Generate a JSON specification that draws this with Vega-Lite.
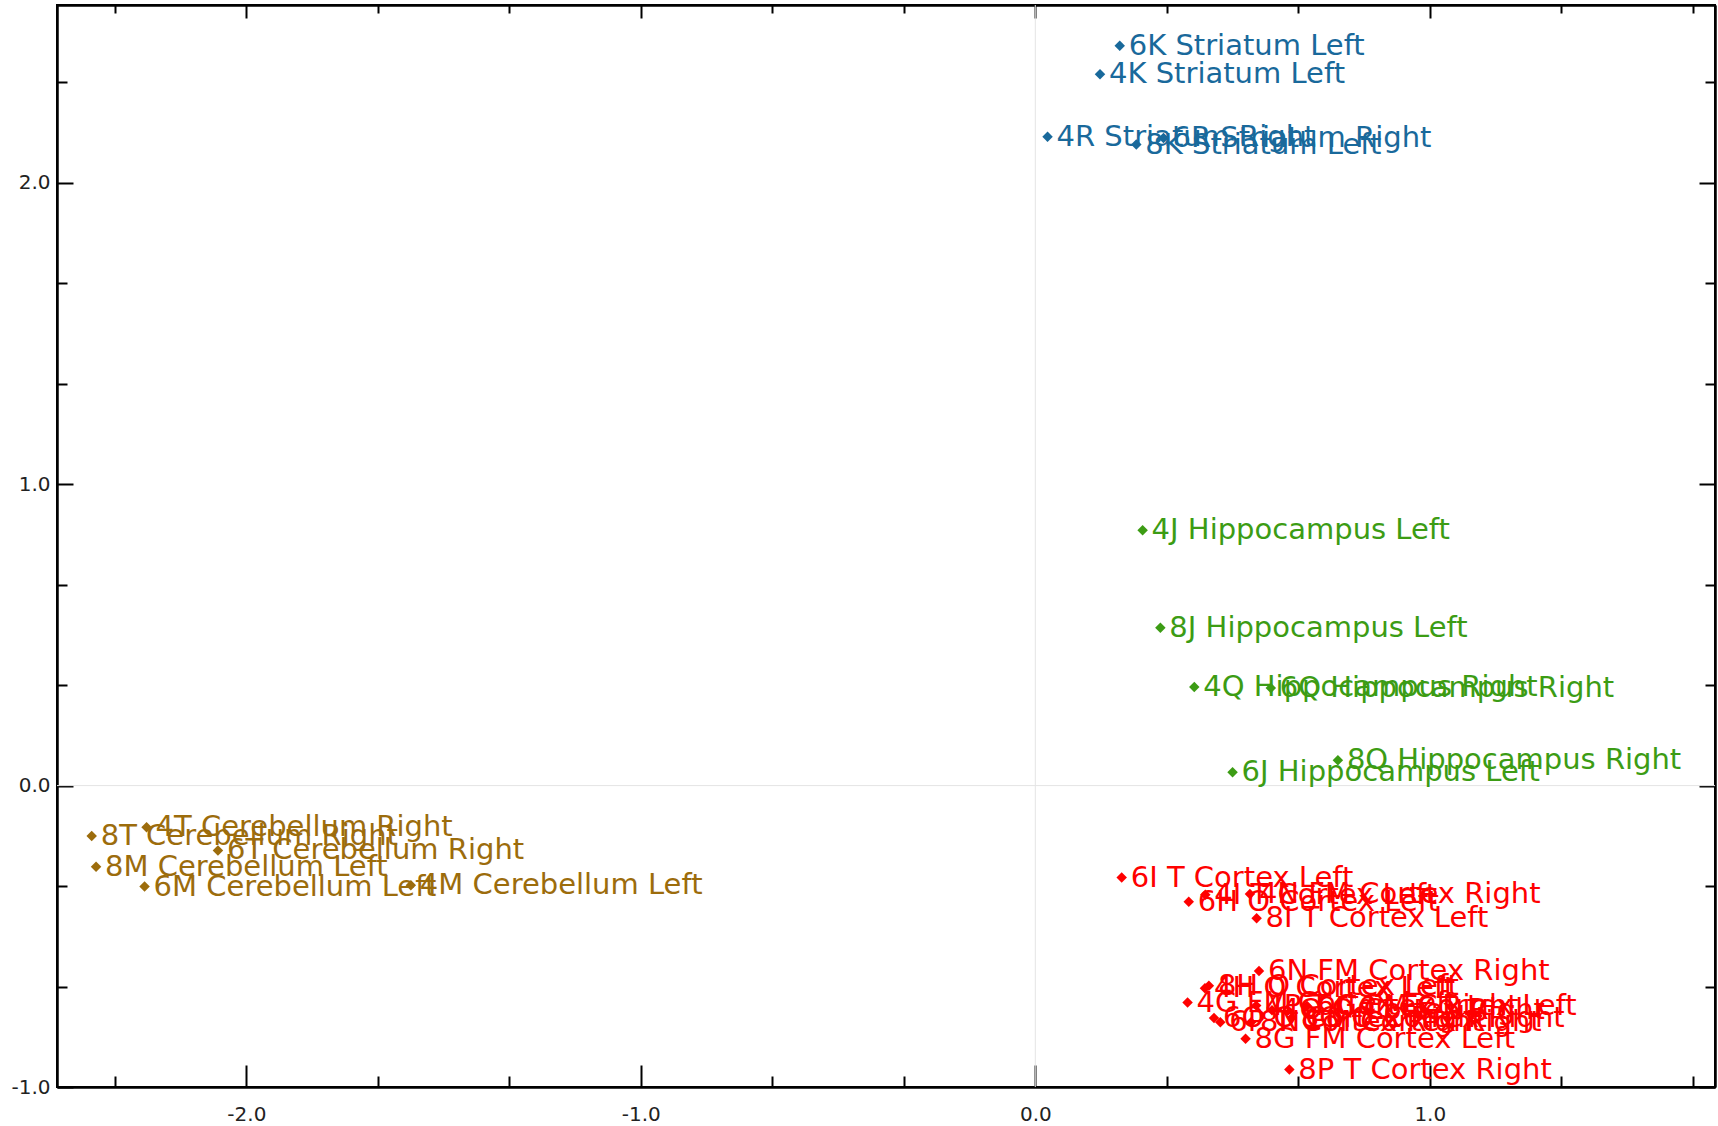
{
  "$schema": "https://vega.github.io/schema/vega-lite/v6.json",
  "width": 1658,
  "height": 1082,
  "autosize": {"type": "none"},
  "padding": {"left": 57, "top": 5, "right": 3, "bottom": 39},
  "background": "white",
  "config": {
    "view": {"stroke": "black", "strokeWidth": 2},
    "axis": {
      "domainColor": "black",
      "domainWidth": 2,
      "tickColor": "black",
      "tickWidth": 2,
      "grid": false,
      "title": null,
      "zindex": 2,
      "labelFont": "DejaVu Sans",
      "labelFontSize": 20,
      "labelColor": "#222222",
      "labelFlush": false,
      "labelOverlap": false
    }
  },
  "data": {
    "values": [
      {"label": "6K Striatum Left", "group": "Striatum", "pc1": 0.214, "pc2": 2.455},
      {"label": "4K Striatum Left", "group": "Striatum", "pc1": 0.164, "pc2": 2.360},
      {"label": "4R Striatum Right", "group": "Striatum", "pc1": 0.031, "pc2": 2.153},
      {"label": "8K Striatum Left", "group": "Striatum", "pc1": 0.256, "pc2": 2.127},
      {"label": "6R Striatum Right", "group": "Striatum", "pc1": 0.325, "pc2": 2.149},
      {"label": "4J Hippocampus Left", "group": "Hippocampus", "pc1": 0.272, "pc2": 0.847},
      {"label": "8J Hippocampus Left", "group": "Hippocampus", "pc1": 0.317, "pc2": 0.524},
      {"label": "4Q Hippocampus Right", "group": "Hippocampus", "pc1": 0.403, "pc2": 0.327},
      {"label": "6Q Hippocampus Right", "group": "Hippocampus", "pc1": 0.597, "pc2": 0.324},
      {"label": "6J Hippocampus Left", "group": "Hippocampus", "pc1": 0.500, "pc2": 0.044},
      {"label": "8Q Hippocampus Right", "group": "Hippocampus", "pc1": 0.767, "pc2": 0.084},
      {"label": "4T Cerebellum Right", "group": "Cerebellum", "pc1": -2.253, "pc2": -0.138},
      {"label": "8T Cerebellum Right", "group": "Cerebellum", "pc1": -2.392, "pc2": -0.167},
      {"label": "6T Cerebellum Right", "group": "Cerebellum", "pc1": -2.072, "pc2": -0.215},
      {"label": "8M Cerebellum Left", "group": "Cerebellum", "pc1": -2.381, "pc2": -0.269},
      {"label": "6M Cerebellum Left", "group": "Cerebellum", "pc1": -2.258, "pc2": -0.335},
      {"label": "4M Cerebellum Left", "group": "Cerebellum", "pc1": -1.583, "pc2": -0.331},
      {"label": "6I T Cortex Left", "group": "Cortex", "pc1": 0.219, "pc2": -0.305},
      {"label": "6H O Cortex Left", "group": "Cortex", "pc1": 0.389, "pc2": -0.385},
      {"label": "4I T Cortex Left", "group": "Cortex", "pc1": 0.431, "pc2": -0.362},
      {"label": "4N FM Cortex Right", "group": "Cortex", "pc1": 0.544, "pc2": -0.360},
      {"label": "8I T Cortex Left", "group": "Cortex", "pc1": 0.561, "pc2": -0.440},
      {"label": "6N FM Cortex Right", "group": "Cortex", "pc1": 0.567, "pc2": -0.615},
      {"label": "4H O Cortex Left", "group": "Cortex", "pc1": 0.430, "pc2": -0.672},
      {"label": "8H O Cortex Left", "group": "Cortex", "pc1": 0.440, "pc2": -0.664},
      {"label": "4G FM Cortex Left", "group": "Cortex", "pc1": 0.386, "pc2": -0.720},
      {"label": "6O O Cortex Right", "group": "Cortex", "pc1": 0.453, "pc2": -0.771},
      {"label": "6P T Cortex Right", "group": "Cortex", "pc1": 0.469, "pc2": -0.785},
      {"label": "4P T Cortex Right", "group": "Cortex", "pc1": 0.560, "pc2": -0.730},
      {"label": "4O O Cortex Right", "group": "Cortex", "pc1": 0.600, "pc2": -0.745},
      {"label": "6G FM Cortex Left", "group": "Cortex", "pc1": 0.689, "pc2": -0.731},
      {"label": "8O O Cortex Right", "group": "Cortex", "pc1": 0.650, "pc2": -0.770},
      {"label": "8N FM Cortex Right", "group": "Cortex", "pc1": 0.547, "pc2": -0.785},
      {"label": "8G FM Cortex Left", "group": "Cortex", "pc1": 0.533, "pc2": -0.840},
      {"label": "8P T Cortex Right", "group": "Cortex", "pc1": 0.644, "pc2": -0.942}
    ]
  },
  "resolve": {"axis": {"x": "independent", "y": "independent"}},
  "layer": [
    {
      "data": {"values": [{}]},
      "mark": {"type": "rule", "color": "#e4e4e4", "strokeWidth": 1},
      "encoding": {
        "y": {"datum": 0, "type": "quantitative", "scale": {"domain": [-1.0, 2.59], "nice": false, "zero": false},
          "axis": {"orient": "left", "values": [-0.6666667, -0.3333333, 0.3333333, 0.6666667, 1.3333333, 1.6666667, 2.3333333], "labels": false, "tickSize": -10, "domain": true}}
      }
    },
    {
      "data": {"values": [{}]},
      "mark": {"type": "rule", "color": "#e4e4e4", "strokeWidth": 1},
      "encoding": {
        "x": {"datum": 0, "type": "quantitative", "scale": {"domain": [-2.48, 1.723], "nice": false, "zero": false},
          "axis": {"orient": "bottom", "values": [-2.3333333, -1.6666667, -1.3333333, -0.6666667, -0.3333333, 0.3333333, 0.6666667, 1.3333333, 1.6666667], "labels": false, "tickSize": -11, "domain": true}}
      }
    },
    {
      "data": {"values": [{}]},
      "mark": {"type": "point", "opacity": 0},
      "encoding": {
        "x": {"datum": 0, "type": "quantitative",
          "axis": {"orient": "top", "values": [-2.3333333, -1.6666667, -1.3333333, -0.6666667, -0.3333333, 0.3333333, 0.6666667, 1.3333333, 1.6666667], "labels": false, "tickSize": -8, "domain": true}},
        "y": {"datum": 0, "type": "quantitative",
          "axis": {"orient": "right", "values": [-0.6666667, -0.3333333, 0.3333333, 0.6666667, 1.3333333, 1.6666667, 2.3333333], "labels": false, "tickSize": -10, "domain": true}}
      }
    },
    {
      "mark": {"type": "point", "shape": "diamond", "filled": true, "size": 110, "opacity": 1},
      "encoding": {
        "x": {"field": "pc1", "type": "quantitative",
          "axis": {"orient": "bottom", "values": [-2, -1, 0, 1], "tickSize": -22, "labelPadding": 39,
            "labelExpr": "(datum.value < 0 ? '-' : '') + format(abs(datum.value), '.1f')"}},
        "y": {"field": "pc2", "type": "quantitative",
          "axis": {"orient": "left", "values": [-1, 0, 1, 2], "tickSize": -16, "labelPadding": 23,
            "labelExpr": "(datum.value < 0 ? '-' : '') + format(abs(datum.value), '.1f')"}},
        "color": {"field": "group", "type": "nominal", "legend": null,
          "scale": {"domain": ["Striatum", "Hippocampus", "Cerebellum", "Cortex"], "range": ["#19699b", "#3c9c14", "#9c6c0c", "#ff0000"]}}
      }
    },
    {
      "mark": {"type": "text", "align": "left", "baseline": "middle", "dx": 9, "font": "DejaVu Sans", "fontSize": 29},
      "encoding": {
        "x": {"field": "pc1", "type": "quantitative",
          "axis": {"orient": "top", "values": [-2, -1, 0, 1], "tickSize": -13, "labels": false}},
        "y": {"field": "pc2", "type": "quantitative",
          "axis": {"orient": "right", "values": [-1, 0, 1, 2], "tickSize": -16, "labels": false}},
        "text": {"field": "label"},
        "color": {"field": "group", "type": "nominal", "legend": null}
      }
    }
  ]
}
